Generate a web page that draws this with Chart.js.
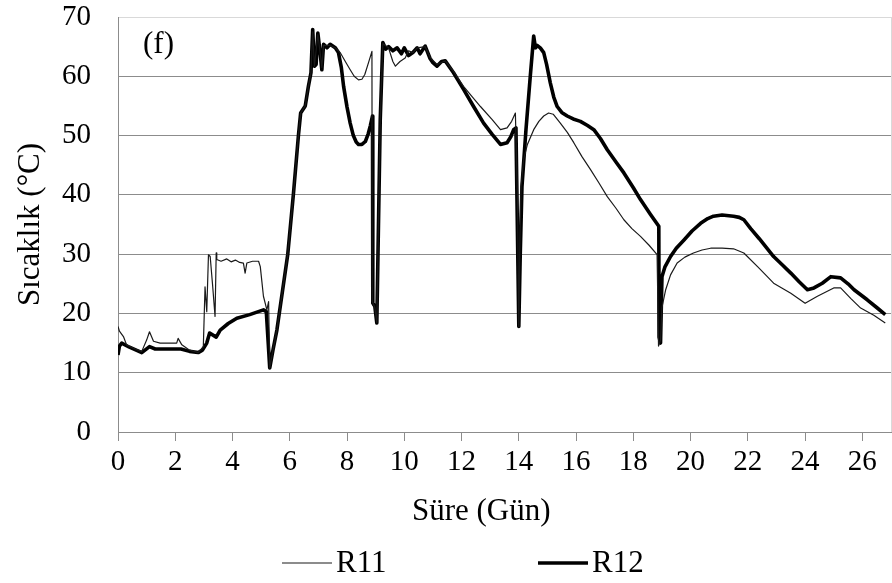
<!DOCTYPE html>
<html>
<head>
<meta charset="utf-8">
<script src="https://cdn.jsdelivr.net/npm/chart.js@4.4.1/dist/chart.umd.min.js"></script>
<style>
  html, body { margin: 0; padding: 0; background: #fff; }
</style>
</head>
<body>
<canvas id="temp-chart" width="892" height="583"></canvas>
<script>
// Sıcaklık verisi (gün, °C)
const r11Days = [0.00, 0.05, 0.19, 0.30, 0.60, 0.83, 1.00, 1.10, 1.24, 1.47, 1.80, 2.05, 2.10, 2.23, 2.50, 2.80, 2.98, 3.04, 3.10, 3.16, 3.22, 3.30, 3.39, 3.43, 3.45, 3.60, 3.80, 3.95, 4.10, 4.25, 4.38, 4.44, 4.50, 4.70, 4.91, 4.97, 5.08, 5.20, 5.26, 5.30, 5.42, 5.55, 5.93, 6.13, 6.30, 6.38, 6.54, 6.65, 6.74, 6.80, 6.86, 6.98, 7.06, 7.12, 7.18, 7.41, 7.59, 7.76, 7.95, 8.11, 8.25, 8.40, 8.52, 8.62, 8.75, 8.87, 8.88, 8.97, 9.04, 9.16, 9.25, 9.45, 9.60, 9.69, 9.85, 10.03, 10.15, 10.30, 10.45, 10.73, 10.90, 11.14, 11.43, 11.72, 12.07, 12.36, 12.66, 13.07, 13.36, 13.59, 13.75, 13.88, 13.95, 14.00, 14.04, 14.08, 14.17, 14.30, 14.52, 14.70, 14.87, 15.04, 15.20, 15.45, 15.70, 15.92, 16.20, 16.50, 16.80, 17.09, 17.40, 17.67, 17.95, 18.25, 18.55, 18.83, 18.88, 18.95, 19.00, 19.13, 19.30, 19.53, 19.80, 20.10, 20.40, 20.70, 21.10, 21.50, 21.86, 22.40, 22.90, 23.50, 24.00, 24.43, 25.00, 25.24, 25.60, 25.94, 26.40, 26.80];
const r11Temp = [17.8, 17.0, 16.1, 14.7, 14.0, 13.6, 15.5, 16.9, 15.3, 15.0, 15.0, 15.0, 15.8, 14.7, 13.8, 13.4, 14.4, 24.5, 20.3, 29.9, 29.6, 25.0, 19.5, 30.2, 29.1, 28.8, 29.2, 28.7, 29.0, 28.6, 28.5, 26.8, 28.5, 28.8, 28.8, 27.9, 22.9, 20.6, 22.0, 10.8, 14.0, 17.2, 30.0, 40.3, 49.9, 53.8, 55.0, 58.3, 60.6, 67.5, 61.7, 67.0, 64.0, 61.5, 65.2, 65.2, 64.8, 64.0, 62.4, 61.1, 60.0, 59.4, 59.5, 60.3, 62.3, 64.2, 22.0, 21.0, 18.5, 52.7, 65.5, 64.8, 62.5, 61.7, 62.5, 63.1, 64.3, 64.0, 64.8, 65.0, 63.2, 62.0, 62.6, 60.8, 58.3, 56.6, 54.9, 52.7, 51.0, 51.3, 52.4, 53.8, 40.0, 17.8, 33.0, 41.4, 46.0, 48.5, 51.0, 52.4, 53.3, 53.8, 53.6, 52.1, 50.5, 48.8, 46.5, 44.3, 42.0, 39.7, 37.7, 35.8, 34.3, 33.0, 31.5, 29.9, 14.5, 15.5, 21.0, 24.0, 26.5, 28.5, 29.5, 30.2, 30.7, 31.0, 31.0, 30.9, 30.2, 27.6, 25.1, 23.4, 21.7, 22.9, 24.3, 24.3, 22.5, 20.9, 19.7, 18.4];

const r12Days = [0.00, 0.05, 0.13, 0.40, 0.83, 1.10, 1.30, 1.80, 2.20, 2.50, 2.80, 2.95, 3.10, 3.20, 3.43, 3.57, 3.85, 4.15, 4.60, 5.08, 5.18, 5.30, 5.42, 5.55, 5.93, 6.13, 6.30, 6.38, 6.54, 6.65, 6.74, 6.80, 6.86, 6.92, 6.98, 7.06, 7.12, 7.18, 7.30, 7.41, 7.59, 7.70, 7.80, 7.88, 8.00, 8.11, 8.22, 8.32, 8.40, 8.52, 8.64, 8.74, 8.81, 8.89, 8.90, 8.97, 9.04, 9.16, 9.25, 9.35, 9.45, 9.60, 9.75, 9.90, 10.00, 10.15, 10.30, 10.45, 10.55, 10.73, 10.90, 11.00, 11.14, 11.30, 11.43, 11.72, 12.07, 12.42, 12.77, 13.07, 13.36, 13.59, 13.72, 13.82, 13.90, 14.00, 14.05, 14.11, 14.25, 14.40, 14.52, 14.58, 14.64, 14.75, 14.87, 14.97, 15.10, 15.22, 15.34, 15.50, 15.69, 15.90, 16.15, 16.40, 16.62, 16.85, 17.09, 17.40, 17.67, 18.00, 18.25, 18.60, 18.89, 18.90, 18.95, 19.00, 19.10, 19.30, 19.50, 19.77, 20.05, 20.35, 20.60, 20.80, 21.10, 21.50, 21.70, 21.86, 22.10, 22.40, 22.90, 23.20, 23.50, 23.80, 24.08, 24.31, 24.60, 24.90, 25.24, 25.50, 25.71, 26.17, 26.50, 26.80];
const r12Temp = [13.0, 14.5, 15.0, 14.3, 13.4, 14.4, 14.0, 14.0, 14.0, 13.6, 13.4, 13.8, 15.0, 16.7, 16.0, 17.2, 18.3, 19.2, 19.8, 20.6, 20.3, 10.8, 14.0, 17.2, 30.0, 40.3, 49.9, 53.8, 55.0, 58.3, 60.6, 67.9, 61.7, 62.0, 67.3, 64.0, 61.1, 65.4, 64.8, 65.4, 64.8, 64.0, 61.5, 58.3, 54.8, 52.1, 50.0, 48.9, 48.5, 48.5, 49.0, 50.3, 51.6, 53.3, 21.7, 21.2, 18.4, 52.7, 65.7, 64.6, 65.0, 64.3, 64.8, 63.8, 64.8, 63.5, 64.0, 64.8, 63.8, 65.1, 63.0, 62.3, 61.7, 62.5, 62.6, 60.6, 57.8, 54.9, 52.1, 50.2, 48.5, 48.8, 49.8, 51.0, 51.3, 17.8, 30.0, 41.4, 51.0, 60.0, 66.8, 64.8, 65.2, 64.8, 64.0, 62.0, 58.9, 56.5, 54.9, 53.9, 53.3, 52.8, 52.4, 51.7, 51.0, 49.5, 47.6, 45.5, 43.7, 41.2, 39.2, 36.7, 34.7, 16.0, 15.0, 26.2, 27.8, 29.6, 31.0, 32.4, 33.9, 35.2, 36.0, 36.4, 36.6, 36.4, 36.2, 35.8, 34.3, 32.6, 29.6, 28.2, 26.8, 25.3, 24.0, 24.3, 25.1, 26.2, 26.0, 25.0, 24.0, 22.3, 21.0, 19.8];

const seriesNames = ['R11', 'R12'];
const dayMax = 27;
const tempMax = 70;

const serif = '"Liberation Serif", "Times New Roman", serif';
const gridGray = '#8c8c8c';
const frameGray = '#d9d9d9';

function toPoints(days, temps) {
    return days.map((d, i) => ({ x: d, y: temps[i] }));
}

// keep the plot area exactly where the layout padding puts it
function noLabelPadding(scale) {
    scale.paddingTop = 0;
    scale.paddingBottom = 0;
    scale.paddingLeft = 0;
    scale.paddingRight = 0;
}

// legend under the chart and the "(f)" panel tag
const panelDecor = {
    id: 'panelDecor',
    afterDraw(chart, args, opts) {
        const ctx = chart.ctx;
        const area = chart.chartArea;
        ctx.save();

        // right frame edge
        ctx.strokeStyle = frameGray;
        ctx.lineWidth = 1;
        ctx.beginPath();
        ctx.moveTo(area.right + 0.5, area.top);
        ctx.lineTo(area.right + 0.5, area.bottom);
        ctx.stroke();

        ctx.font = '31px ' + serif;
        ctx.fillStyle = '#000';
        ctx.textBaseline = 'middle';
        ctx.textAlign = 'left';
        ctx.fillText(opts.tag, area.left + 25, area.top + 28);

        chart.data.datasets.forEach((ds, i) => {
            const x = opts.starts[i];
            ctx.strokeStyle = ds.borderColor;
            ctx.lineWidth = ds.borderWidth;
            ctx.beginPath();
            ctx.moveTo(x, opts.y);
            ctx.lineTo(x + opts.lineLength, opts.y);
            ctx.stroke();
            ctx.fillText(ds.label, x + opts.lineLength + 4, opts.y + 1);
        });
        ctx.restore();
    }
};

const chart = new Chart(document.getElementById('temp-chart'), {
    type: 'line',
    data: {
        datasets: [
            {
                label: seriesNames[0],
                data: toPoints(r11Days, r11Temp),
                borderColor: '#1a1a1a',
                borderWidth: 1.2,
                pointRadius: 0,
                borderJoinStyle: 'round',
                tension: 0
            },
            {
                label: seriesNames[1],
                data: toPoints(r12Days, r12Temp),
                borderColor: '#000',
                borderWidth: 3.6,
                pointRadius: 0,
                borderJoinStyle: 'round',
                tension: 0
            }
        ]
    },
    options: {
        responsive: false,
        animation: false,
        layout: { padding: { top: 17, right: 1, bottom: 50, left: 0 } },
        plugins: {
            legend: { display: false },
            tooltip: { enabled: false },
            panelDecor: { tag: '(f)', starts: [282, 538], lineLength: 50, y: 563 }
        },
        scales: {
            x: {
                type: 'linear',
                min: 0,
                max: dayMax,
                afterFit: (scale) => { scale.height = 101; noLabelPadding(scale); },
                border: { color: gridGray, width: 1 },
                grid: { drawOnChartArea: false, drawTicks: true, tickLength: 9, color: gridGray },
                ticks: {
                    stepSize: 2,
                    includeBounds: false,
                    padding: 4,
                    color: '#000',
                    font: { family: serif, size: 29 }
                },
                title: {
                    display: true,
                    text: 'Süre (Gün)' + '\u00a0'.repeat(6),
                    color: '#000',
                    font: { family: serif, size: 31 },
                    padding: { top: 0, bottom: 3 }
                }
            },
            y: {
                min: 0,
                max: tempMax,
                afterFit: (scale) => { scale.width = 118; noLabelPadding(scale); },
                border: { color: gridGray, width: 1 },
                grid: {
                    drawTicks: false,
                    color: (c) => (c.tick && c.tick.value === tempMax ? frameGray : gridGray)
                },
                ticks: {
                    stepSize: 10,
                    padding: 27,
                    color: '#000',
                    font: { family: serif, size: 29 }
                },
                title: {
                    display: true,
                    text: 'Sıcaklık (°C)',
                    color: '#000',
                    font: { family: serif, size: 31 },
                    padding: { top: 12, bottom: 0 }
                }
            }
        }
    },
    plugins: [panelDecor]
});
</script>
</body>
</html>
